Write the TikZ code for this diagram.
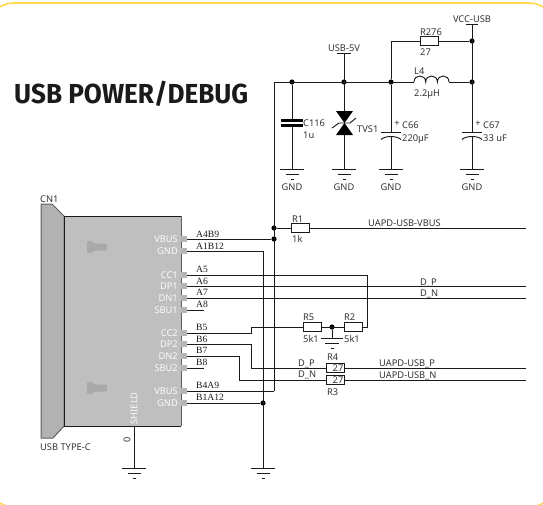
\documentclass[tikz,border=0pt]{standalone}
\usepackage{fontspec}
\setmainfont{Noto Sans}
\newfontfamily\titlefont{Fira Sans}
\newfontfamily\pinfont{Liberation Serif}
\definecolor{ink}{HTML}{1A1A1A}
\definecolor{txt}{HTML}{333333}
\definecolor{body}{HTML}{BFBFBF}
\definecolor{shellc}{HTML}{B2B2B2}
\definecolor{edge}{HTML}{5F5F5F}
\definecolor{stub}{HTML}{B5B5B5}
\definecolor{bolt}{HTML}{A9A9A9}
\definecolor{frame}{HTML}{FFD84D}
\tikzset{
  x=1pt,y=-1pt,
  wire/.style={draw=ink,line width=.95pt},
  lbl/.style={anchor=base west,inner sep=0,text=txt,font=\fontsize{9.3}{9.3}\selectfont,yshift=-3.3pt},
  clbl/.style={lbl,anchor=base},
  pinno/.style={anchor=base west,inner sep=0,text=ink,font=\pinfont\fontsize{9.6}{9.6}\selectfont,yshift=-3.2pt},
  pinname/.style={anchor=base east,inner sep=0,text=white!92!body,font=\fontsize{9.3}{9.3}\selectfont,yshift=-3.3pt},
  res/.style={draw=ink,fill=white,line width=.95pt,rectangle,minimum width=18pt,minimum height=9.5pt,inner sep=0},
  dot/.style={circle,fill=black,inner sep=0,minimum size=5.2pt},
  stubbox/.style={rectangle,fill=stub,inner sep=0,minimum width=6pt,minimum height=5.5pt},
  gndsym/.pic={
    \draw[ink,line width=.95pt] (-12,0) -- (12,0);
    \draw[ink,line width=.95pt] (-6.5,5) -- (6.5,5);
    \draw[ink,line width=.95pt] (-1.5,10) -- (1.5,10);
  },
  boltsym/.pic={
    \fill[bolt,rounded corners=1pt] (0,-6) -- (5,-6) -- (7,-3.5) -- (20,-3.5) -- (20,3.5) -- (7,3.5) -- (5,6) -- (0,6) -- cycle;
  }
}
\begin{document}
\begin{tikzpicture}
\useasboundingbox (0,0) rectangle (543,504);
\clip (0,0) rectangle (543,504);
\draw[frame,line width=1.6pt,rounded corners=28pt] (-14,3) rectangle (557,507);

% connector body
\draw[fill=shellc,draw=edge,line width=1pt] (41,204) -- (52,204) -- (64,216) -- (64,426) -- (53,438) -- (41,438) -- cycle;
\fill[body] (64,216) rectangle (181,426);
\draw[ink,line width=.95pt] (181,216) -- (64,216) -- (64,426) -- (181,426);
\draw[edge,line width=1pt] (181,216) -- (181,426);
\pic at (87,247) {boltsym};
\pic at (87,388) {boltsym};
\node[lbl] (cn1) at (40,199) {CN1};
\node[lbl] (usbc) at (40,447) {USB TYPE-C};

% pin stubs and names
\foreach \n/\py/\t in {pa/239/VBUS,pb/251/GND,pc/275/CC1,pd/286/DP1,pe/298/DN1,pf/310/SBU1,pg/333/CC2,ph/344/DP2,pi/356/DN2,pj/368/SBU2,pk/391/VBUS,pl/403/GND}{
  \node[stubbox] (\n) at (184,\py) {};
  \node[pinname] at (178,\py) {\t};
}
\node[pinname,rotate=90,anchor=center,yshift=0pt] (shield) at (134,405) {SHIELD};
\node[pinno] at (196,234) {A4B9};
\node[pinno] at (196,246) {A1B12};
\node[pinno] at (196,269) {A5};
\node[pinno] at (196,281) {A6};
\node[pinno] at (196,292) {A7};
\node[pinno] at (196,304) {A8};
\node[pinno] at (196,327) {B5};
\node[pinno] at (196,339) {B6};
\node[pinno] at (196,350) {B7};
\node[pinno] at (196,362) {B8};
\node[pinno] at (196,385) {B4A9};
\node[pinno] at (196,397) {B1A12};

% junctions
\node[dot] (j1) at (292,82) {};
\node[dot] (j2) at (344,82) {};
\node[dot] (j3) at (391,82) {};
\node[dot] (j4) at (472,82) {};
\node[dot] (j5) at (472,41) {};
\node[dot] (j6) at (274,228) {};
\node[dot] (j7) at (274,239) {};
\node[dot] (j8) at (263,403) {};
\node[dot] (j9) at (332,327) {};

% free ends
\coordinate (corner) at (274,82);
\coordinate (e1) at (526,228);
\coordinate (e2) at (526,286);
\coordinate (e3) at (526,298);
\coordinate (e4) at (526,368);
\coordinate (e5) at (526,380);
\coordinate (e6) at (204,310);
\coordinate (e7) at (204,368);
\coordinate (vcc) at (472,24);
\coordinate (usb5) at (344,53);
\coordinate (g1) at (292,169);
\coordinate (g2) at (344,169);
\coordinate (g3) at (391,169);
\coordinate (g4) at (472,169);
\coordinate (g5) at (134,468);
\coordinate (g6) at (263,468);
\coordinate (g7) at (332,338);
\coordinate (l4a) at (414,82);
\coordinate (l4b) at (449,82);

% resistors
\node[res] (r276) at (429,41) {};
\node[res] (r1) at (300,228) {};
\node[res] (r5) at (312,327) {};
\node[res] (r2) at (353,327) {};
\node[res] (r4) at (335.5,368) {};
\node[res] (r3) at (335.5,380) {};

% top wires
\draw[wire] (corner) -- (l4a);
\draw[wire] (l4b) -- (j4);
\draw[wire] (l4a) .. controls (414,74) and (425.7,74) .. (425.7,82) .. controls (425.7,74) and (437.4,74) .. (437.4,82) .. controls (437.4,74) and (449,74) .. (449,82);
\draw[wire] (j3) |- (r276.west);
\draw[wire] (r276.east) -- (j5);
\draw[wire] (vcc) -- (g4);
\draw[wire] (466,24) -- (478,24);
\draw[wire] (337,53) -- (351,53);
\draw[wire] (usb5) -- (g2);
\draw[wire] (j1) -- (g1);
\draw[wire] (j3) -- (391,132);
\draw[wire] (391,137) -- (g3);
\fill[white] (463,133) rectangle (482,137);
\draw[wire] (corner) -- (274,391);

% C116
\fill[black] (281,118.5) rectangle (303,122);
\fill[black] (281,123.5) rectangle (303,127);
\fill[white] (285,122) rectangle (299,123.5);
% C66
\draw[wire] (381,132) -- (401,132);
\draw[wire] (381,139.5) .. controls (385,135.5) and (397,135.5) .. (401,139.5);
% C67
\draw[wire] (462,132) -- (482,132);
\draw[wire] (462,139.5) .. controls (466,135.5) and (478,135.5) .. (482,139.5);
% TVS1
\fill[black] (336,111) -- (353,111) -- (344.5,123) -- cycle;
\fill[black] (336,135) -- (353,135) -- (344.5,123) -- cycle;
\draw[ink,line width=.95pt] (332,128) -- (339,123) -- (350,123) -- (356,118);

\pic at (g1) {gndsym};
\pic at (g2) {gndsym};
\pic at (g3) {gndsym};
\pic at (g4) {gndsym};
\pic at (g5) {gndsym};
\pic at (g6) {gndsym};
\draw[ink,line width=.95pt] (321,338) -- (343,338);
\draw[ink,line width=.95pt] (325,343) -- (339,343);
\draw[ink,line width=.95pt] (330.5,348) -- (333.5,348);

% signal wires
\draw[wire] (pa.east) -- (j7);
\draw[wire] (pb.east) -| (g6);
\draw[wire] (pl.east) -- (j8);
\draw[wire] (pk.east) -- (274,391);
\draw[wire] (j6) -- (r1.west);
\draw[wire] (r1.east) -- (e1);
\draw[wire] (pc.east) -- (367,275) -- (367,327) -- (r2.east);
\draw[wire] (pd.east) -- (e2);
\draw[wire] (pe.east) -- (e3);
\draw[wire] (pf.east) -- (e6);
\draw[wire] (pg.east) -- (251,333) -- (251,327) -- (r5.west);
\draw[wire] (r5.east) -- (r2.west);
\draw[wire] (j9) -- (g7);
\draw[wire] (ph.east) -- (251,344) -- (251,368) -- (r4.west);
\draw[wire] (r4.east) -- (e4);
\draw[wire] (pi.east) -- (239,356) -- (239,380) -- (r3.west);
\draw[wire] (r3.east) -- (e5);
\draw[wire] (pj.east) -- (e7);
\draw[wire] (shield |- 0,426) -- (g5);
\node[clbl,rotate=90,anchor=center,yshift=0pt] at (127,437) {0};

% labels
\node[anchor=base west,inner sep=0,text=ink,font=\titlefont\bfseries\fontsize{27.5}{27.5}\selectfont,xscale=.95] (title) at (14,103) {USB POWER/DEBUG};
\node[clbl] at (472,19) {VCC-USB};
\node[clbl] at (344,48) {USB-5V};
\node[clbl] at (431,32) {R276};
\node[lbl] at (420,52) {27};
\node[lbl] at (414,71) {L4};
\node[lbl] at (414,93) {2.2µH};
\node[lbl] at (303,123) {C116};
\node[lbl] at (303,135) {1u};
\node[lbl] at (357,129) {TVS1};
\node[lbl] at (402,125.5) {C66};
\node[lbl] at (402,138) {220µF};
\node[lbl] at (483,125.5) {C67};
\node[lbl] at (483,138) {33 uF};
\node[clbl,font=\bfseries\fontsize{9.3}{9.3}\selectfont] at (397,123) {+};
\node[clbl,font=\bfseries\fontsize{9.3}{9.3}\selectfont] at (478,123) {+};
\node[clbl] at (292,187) {GND};
\node[clbl] at (344,187) {GND};
\node[clbl] at (391,187) {GND};
\node[clbl] at (472,187) {GND};
\node[lbl] at (292,219) {R1};
\node[lbl] at (292,239) {1k};
\node[lbl] at (368,223) {UAPD-USB-VBUS};
\node[lbl] at (420,282) {D\_P};
\node[lbl] at (420,293) {D\_N};
\node[lbl] at (303,317) {R5};
\node[lbl] at (303,339) {5k1};
\node[lbl] at (344,317) {R2};
\node[lbl] at (344,339) {5k1};
\node[lbl] at (327,357) {R4};
\node[lbl] at (327,392) {R3};
\node[lbl] at (298,363) {D\_P};
\node[lbl] at (298,374.5) {D\_N};
\node[clbl] at (338,368) {27};
\node[clbl] at (338,380) {27};
\node[lbl] at (379,363) {UAPD-USB\_P};
\node[lbl] at (379,375) {UAPD-USB\_N};
\end{tikzpicture}
\end{document}
